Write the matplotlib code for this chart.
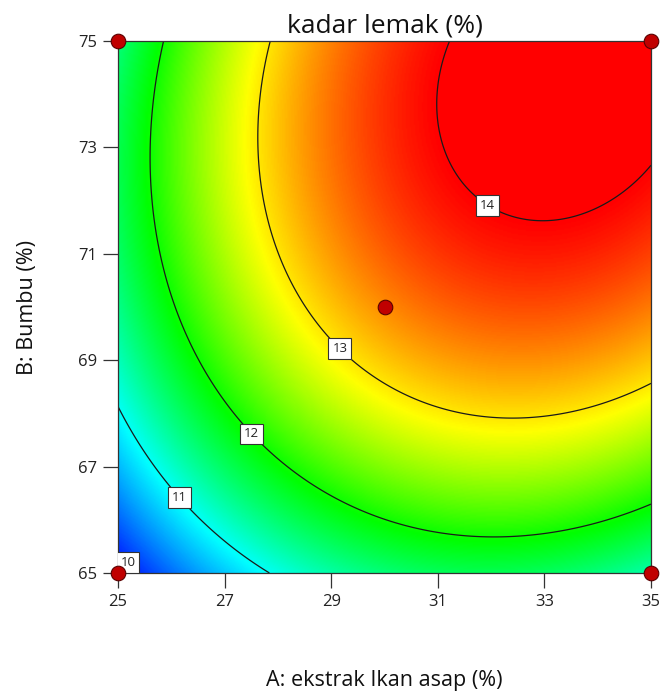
import numpy as np
import matplotlib
matplotlib.use("Agg")
import matplotlib.pyplot as plt
from matplotlib.colors import LinearSegmentedColormap

plt.rcParams['font.family'] = ['Open Sans', 'DejaVu Sans']

# Model kuadratik (faktor terkode) untuk kadar lemak
b0 = 13.386
b_A = 1.024
b_B = 1.121
b_AB = 0.288
b_AA = -0.942
b_BB = -0.771

a_range = [25, 35]
b_range = [65, 75]
x_ticks = [25, 27, 29, 31, 33, 35]
y_ticks = [65, 67, 69, 71, 73, 75]
levels = [10, 11, 12, 13, 14]

# Titik desain
design_a = [25, 25, 35, 35, 30]
design_b = [65, 75, 65, 75, 70]

# Posisi label kontur
label_pos = [(25.25, 65.25), (26.2, 66.45), (27.55, 67.65), (29.2, 69.25), (31.95, 71.95)]

A = np.linspace(a_range[0], a_range[1], 400)
B = np.linspace(b_range[0], b_range[1], 400)
AA, BB = np.meshgrid(A, B)
x = (AA - 30) / 5
y = (BB - 70) / 5
Z = b0 + b_A * x + b_B * y + b_AB * x * y + b_AA * x ** 2 + b_BB * y ** 2

# skala warna biru-cyan-hijau-kuning-merah
vmin, vmax = 9.8, 14.0
stops = [9.8, 10.95, 11.95, 12.9, 14.0]
cols = ['#0000ff', '#00ffff', '#00ff00', '#ffff00', '#ff0000']
cmap = LinearSegmentedColormap.from_list(
    'de', [((s - vmin) / (vmax - vmin), c) for s, c in zip(stops, cols)])

fig = plt.figure(figsize=(6.67, 6.97), dpi=100)
ax = fig.add_axes([0.177, 0.178, 0.799, 0.763])

ax.imshow(Z, origin='lower', extent=[25, 35, 65, 75], aspect='auto',
          cmap=cmap, vmin=vmin, vmax=vmax, interpolation='bilinear')
cs = ax.contour(AA, BB, Z, levels=levels, colors='#1a1a1a', linewidths=0.9)
ax.clabel(cs, fmt='%d', fontsize=9.5, inline=False, manual=label_pos)
for t in cs.labelTexts:
    t.set_rotation(0)
    t.set_bbox(dict(boxstyle='square,pad=0.3', fc='white', ec='#333333', lw=0.8))
    t.set_color('#222222')

ax.scatter(design_a, design_b, s=110, c='#c00000', edgecolors='#5a0000',
           linewidths=0.8, zorder=5, clip_on=False)

ax.set_xlim(25, 35)
ax.set_ylim(65, 75)
ax.set_xticks(x_ticks)
ax.set_yticks(y_ticks)
ax.tick_params(direction='out', length=11, width=0.9, color='#333333',
               labelsize=12, labelcolor='#222222', pad=4)
for s in ax.spines.values():
    s.set_linewidth(0.9)
    s.set_color('#333333')

ax.set_title('kadar lemak (%)', fontsize=19, color='#111111', pad=6)
ax.set_xlabel('A: ekstrak Ikan asap (%)', fontsize=15.5, color='#111111')
ax.set_ylabel('B: Bumbu (%)', fontsize=15.5, color='#111111')
ax.xaxis.set_label_coords(0.5, -0.183)
ax.yaxis.set_label_coords(-0.150, 0.5)

fig.savefig('out.png', dpi=100)
